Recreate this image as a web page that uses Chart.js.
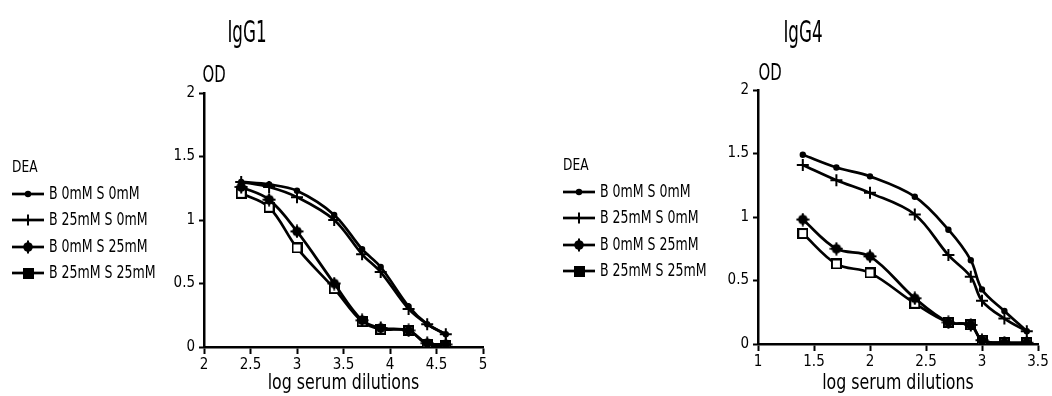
<!DOCTYPE html>
<html>
<head>
<meta charset="utf-8">
<script src="https://cdn.jsdelivr.net/npm/chart.js@4/dist/chart.umd.min.js"></script>
<style>
  html, body { margin: 0; padding: 0; background: #fff; }
  #wrap { width: 1052px; height: 396px; display: flex; }
  .box { width: 526px; height: 396px; position: relative; }
</style>
</head>
<body>
<div id="wrap">
  <div class="box"><canvas id="igg1"></canvas></div>
  <div class="box"><canvas id="igg4"></canvas></div>
</div>
<script>
// log serum dilutions
const xIgG1 = [2.4, 2.7, 3.0, 3.4, 3.7, 3.9, 4.2, 4.4, 4.6];
const xIgG4 = [1.4, 1.7, 2.0, 2.4, 2.7, 2.9, 3.0, 3.2, 3.4];

const seriesLabels = ['B 0mM S 0mM', 'B 25mM S 0mM', 'B 0mM S 25mM', 'B 25mM S 25mM'];

// OD values, IgG1
const igg1B0S0 = [1.30, 1.28, 1.23, 1.04, 0.77, 0.63, 0.32, 0.18, 0.10];
const igg1B25S0 = [1.30, 1.26, 1.18, 1.00, 0.73, 0.59, 0.30, 0.18, 0.10];
const igg1B0S25 = [1.26, 1.16, 0.91, 0.50, 0.21, 0.15, 0.13, 0.03, 0.02];
const igg1B25S25 = [1.21, 1.10, 0.78, 0.46, 0.20, 0.14, 0.13, 0.02, 0.01];

// OD values, IgG4
const igg4B0S0 = [1.49, 1.39, 1.32, 1.16, 0.90, 0.66, 0.43, 0.26, 0.10];
const igg4B25S0 = [1.41, 1.29, 1.19, 1.02, 0.70, 0.53, 0.34, 0.20, 0.10];
const igg4B0S25 = [0.98, 0.75, 0.69, 0.36, 0.17, 0.15, 0.03, 0.01, 0.01];
const igg4B25S25 = [0.87, 0.63, 0.56, 0.32, 0.17, 0.15, 0.03, 0.01, 0.01];

const yTicks = [0, 0.5, 1, 1.5, 2];

const FONT = '"Liberation Sans Narrow", "DejaVu Sans Condensed", "Liberation Sans", sans-serif';

// star-ish blob marker used for "B 0mM S 25mM"
function blobMarker() {
    const c = document.createElement('canvas');
    c.width = 14; c.height = 14;
    const g = c.getContext('2d');
    g.fillStyle = '#000';
    g.beginPath();
    g.arc(7, 7, 4.8, 0, Math.PI * 2);
    g.fill();
    g.strokeStyle = '#000';
    g.lineWidth = 2;
    g.beginPath();
    g.moveTo(7, 0.5); g.lineTo(7, 13.5);
    g.moveTo(0.5, 7); g.lineTo(13.5, 7);
    g.stroke();
    return c;
}

function squareMarker(fill) {
    const c = document.createElement('canvas');
    c.width = 11; c.height = 11;
    const g = c.getContext('2d');
    g.fillStyle = fill;
    g.fillRect(1, 1, 9, 9);
    g.strokeStyle = '#000';
    g.lineWidth = 2;
    g.strokeRect(1, 1, 9, 9);
    return c;
}

const blob = blobMarker();
const openSquare = squareMarker('#fff');
const filledSquare = squareMarker('#000');

// marker look per series
const markers = [
    { pointStyle: 'circle', radius: 2.2, legend: 'circle' },
    { pointStyle: 'cross', radius: 6, legend: 'cross' },
    { pointStyle: blob, radius: 5, legend: blob },
    { pointStyle: openSquare, radius: 5, legend: filledSquare }
];

function makeDatasets(xs, ys) {
    return ys.map((vals, i) => ({
        label: seriesLabels[i],
        data: xs.map((x, j) => ({ x: x, y: vals[j] })),
        borderColor: '#000',
        backgroundColor: '#000',
        borderWidth: 2.7,
        pointStyle: markers[i].pointStyle,
        pointRadius: markers[i].radius,
        pointBorderColor: '#000',
        pointBorderWidth: 2,
        pointBackgroundColor: '#000',
        tension: 0.35
    }));
}

// draw condensed text by squeezing horizontally
function squeezed(ctx, text, x, y, size, sx, align) {
    ctx.save();
    ctx.font = size + 'px ' + FONT;
    ctx.textBaseline = 'middle';
    ctx.textAlign = align;
    ctx.translate(x, y);
    ctx.scale(sx, 1);
    ctx.fillText(text, 0, 0);
    ctx.restore();
}

// draws title, "OD", x title and the DEA legend
const decorPlugin = {
    id: 'decor',
    afterDraw(chart, args, opts) {
        const ctx = chart.ctx;
        const area = chart.chartArea;
        ctx.save();
        ctx.fillStyle = '#000';
        squeezed(ctx, opts.title, opts.titleX, 34, 30, 0.62, 'center');
        squeezed(ctx, 'OD', area.left + opts.odDx, opts.odY, 23, 0.72, 'center');
        squeezed(ctx, 'log serum dilutions', (area.left + area.right) / 2, 383, 22, 0.8, 'center');
        squeezed(ctx, 'DEA', opts.legendX, opts.deaY, 16, 0.85, 'left');

        chart.data.datasets.forEach((ds, i) => {
            const y = opts.rows[i];
            ctx.strokeStyle = '#000';
            ctx.lineWidth = 2.7;
            ctx.beginPath();
            ctx.moveTo(opts.legendX, y);
            ctx.lineTo(opts.legendX + 32, y);
            ctx.stroke();
            ctx.lineWidth = 2;
            ctx.fillStyle = '#000';
            Chart.helpers.drawPoint(ctx, {
                pointStyle: markers[i].legend,
                radius: i === 0 ? 2.2 : 5.5,
                borderWidth: 2,
                rotation: 0
            }, opts.legendX + 16, y);
            ctx.fillStyle = '#000';
            squeezed(ctx, ds.label, opts.legendX + 37, y + 1, 17, 0.82, 'left');
        });
        ctx.restore();
    }
};

function makeChart(id, xs, ys, xMin, xMax, xStep, layout, decor) {
    return new Chart(document.getElementById(id), {
        type: 'line',
        data: { datasets: makeDatasets(xs, ys) },
        plugins: [decorPlugin],
        options: {
            responsive: false,
            animation: false,
            devicePixelRatio: 1,
            layout: { padding: { left: layout.left, right: layout.right, top: layout.top, bottom: 0 } },
            plugins: {
                legend: { display: false },
                title: { display: false },
                tooltip: { enabled: false },
                decor: decor
            },
            scales: {
                x: {
                    type: 'linear',
                    min: xMin,
                    max: xMax,
                    afterFit(scale) { scale.height = layout.xAxisHeight; },
                    afterBuildTicks(scale) {
                        const t = [];
                        for (let v = xMin; v <= xMax + 1e-9; v += xStep) t.push({ value: +v.toFixed(2) });
                        scale.ticks = t;
                    },
                    grid: {
                        display: true,
                        drawOnChartArea: false,
                        drawTicks: true,
                        tickLength: 7,
                        tickWidth: 2,
                        tickColor: '#000'
                    },
                    border: { display: true, color: '#000', width: 2.5 },
                    ticks: {
                        color: '#000',
                        padding: 2,
                        maxRotation: 0,
                        autoSkip: false,
                        font: { family: FONT, size: 15 },
                        callback: v => String(v)
                    }
                },
                y: {
                    type: 'linear',
                    min: 0,
                    max: 2,
                    afterFit(scale) { scale.width = layout.yAxisWidth; },
                    afterBuildTicks(scale) {
                        scale.ticks = yTicks.map(v => ({ value: v }));
                    },
                    grid: {
                        display: true,
                        drawOnChartArea: false,
                        drawTicks: true,
                        tickLength: 5,
                        tickWidth: 2,
                        tickColor: '#000'
                    },
                    border: { display: true, color: '#000', width: 2.5 },
                    ticks: {
                        color: '#000',
                        padding: 4,
                        font: { family: FONT, size: 15 },
                        callback: v => String(v)
                    }
                }
            }
        }
    });
}

['igg1', 'igg4'].forEach(id => {
    const c = document.getElementById(id);
    c.width = 526;
    c.height = 396;
});

makeChart('igg1', xIgG1, [igg1B0S0, igg1B25S0, igg1B0S25, igg1B25S25], 2, 5, 0.5,
    { left: 164, right: 43, top: 93, yAxisWidth: 40, xAxisHeight: 49 },
    { title: 'IgG1', titleX: 247, odDx: 10, odY: 76, legendX: 12, deaY: 168, rows: [194, 220, 247, 273] });

makeChart('igg4', xIgG4, [igg4B0S0, igg4B25S0, igg4B0S25, igg4B25S25], 1, 3.5, 0.5,
    { left: 192, right: 14, top: 90, yAxisWidth: 40, xAxisHeight: 52 },
    { title: 'IgG4', titleX: 277, odDx: 12, odY: 74, legendX: 37, deaY: 166, rows: [192, 218, 245, 271] });
</script>
</body>
</html>
